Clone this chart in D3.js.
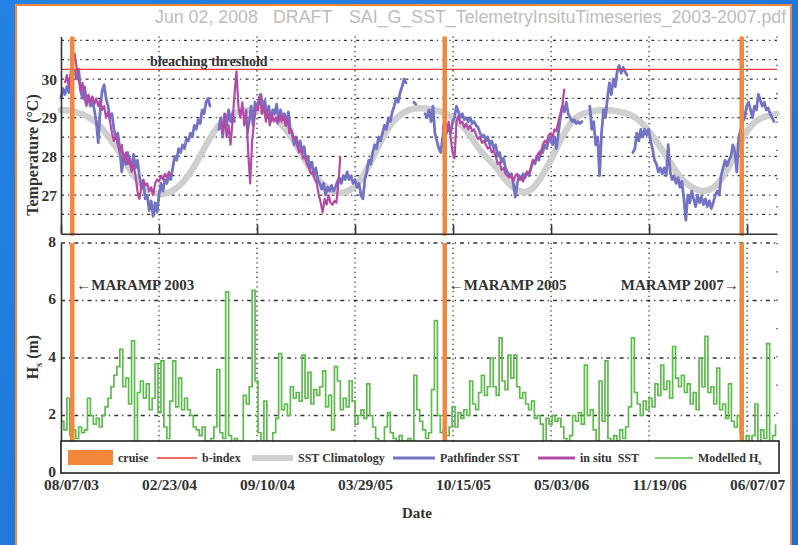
<!DOCTYPE html>
<html>
<head>
<meta charset="utf-8">
<script src="https://cdn.jsdelivr.net/npm/d3@7"></script>
<style>
  html, body { margin: 0; padding: 0; overflow: hidden; background: #1f7ae0; }
  svg { display: block; }
  .serif { font-family: "Liberation Serif", "Times New Roman", serif; font-weight: bold; fill: #333; }
</style>
</head>
<body>
<div id="chart"></div>
<script>
var W = 798, H = 545;

// ---------- data ----------
var startDate = "2003-08-07";
var endDate = "2007-08-07";
var tickDates = ["2003-08-07", "2004-02-23", "2004-09-10", "2005-03-29", "2005-10-15", "2006-05-03", "2006-11-19", "2007-06-07"];
var cruiseDates = ["2003-08-30", "2005-09-28", "2007-05-27"];
var cruiseNotes = ["\u2190MARAMP 2003", "\u2190MARAMP 2005", "MARAMP 2007\u2192"];
var bleachingThreshold = 30.25;
var tempTicks = [27, 28, 29, 30];
var tempGrid = [26.5, 27, 27.5, 28, 28.5, 29, 29.5, 30, 30.5, 31];
var hsTicks = [0, 2, 4, 6, 8];

// Pathfinder SST, 4-day samples, one array per unbroken stretch
var pfStarts = ["2003-08-07", "2004-06-24", "2004-08-21", "2005-07-27", "2005-08-19", "2006-07-21", "2006-10-17"];
var pf1 = [29.5, 29.75, 29.6, 29.8, 29.65, 29.95, 30.1, 30.2, 30.0, 30.25,
  29.7, 29.5, 29.8, 29.4, 29.55, 29.3, 29.45, 29.2,
  28.9, 28.35, 29.2, 29.7, 29.85, 29.5, 29.3, 29.0, 29.1, 28.7,
  28.5, 28.6, 28.2, 27.6, 28.0, 27.8, 28.1, 27.9, 27.7, 28.05,
  27.7, 27.9, 27.5, 27.2, 27.3, 26.9, 27.0, 26.6, 26.85, 26.45,
  26.8, 26.55, 27.0, 27.3, 27.1, 27.4, 27.3, 27.5, 27.4, 27.7,
  28.0, 27.9, 28.2, 28.1, 28.3, 28.2, 28.45, 28.4, 28.6, 28.5,
  28.8, 28.7, 28.95, 28.85, 29.2, 29.1, 29.4, 29.5, 29.3];
var pf2 = [28.7, 29.0, 28.5, 29.1, 28.8, 29.2, 28.9, 29.1, 28.9];
var pf3 = [28.6, 28.9, 29.3, 28.8, 29.4, 29.2, 29.5, 29.6, 29.2, 29.45,
  29.0, 29.3, 28.9, 29.2, 29.1, 29.35, 28.9, 29.2, 29.0, 29.1,
  28.8, 29.15, 28.7, 28.6, 28.3, 28.5, 28.2, 28.4, 28.1, 28.25,
  27.9, 28.0, 27.7, 27.85, 27.5, 27.7, 27.4, 27.3, 27.15, 27.3,
  27.0, 27.2, 27.1, 27.25, 27.1, 27.2, 27.35, 27.45, 27.3, 27.5,
  27.4, 27.6, 27.4, 27.5, 27.3, 27.4, 27.2, 27.3, 27.0, 26.9,
  27.4, 27.6, 27.9, 27.8, 28.1, 28.3, 28.2, 28.5, 28.4, 28.6,
  28.8, 28.7, 29.0, 28.9, 29.15, 29.3, 29.5, 29.4, 29.65, 29.8,
  30.0, 29.9];
var pf4 = [29.4, 29.35];
var pf5 = [29.1, 29.0, 29.2, 28.9, 29.3, 28.6, 28.4, 28.2, 28.1, 28.5,
  28.9, 28.6, 28.75, 28.6, 28.9, 29.0, 29.3, 29.15, 29.0, 29.1,
  28.95, 29.0, 28.9, 29.0, 28.85, 28.9, 28.8, 28.75, 28.6, 28.5,
  28.55, 28.4, 28.5, 28.3, 28.4, 28.2, 28.3, 28.0, 28.1, 27.85,
  27.95, 27.7, 27.6, 27.5, 27.55, 27.3, 26.95, 27.3, 27.5, 27.4,
  27.55, 27.45, 27.6, 27.5, 27.7, 27.9, 27.8, 28.0, 27.9, 28.15,
  28.1, 28.3, 28.2, 28.4, 28.5, 28.3, 28.5, 28.2, 28.6, 29.0,
  29.3, 29.15, 29.4, 29.1, 29.0, 28.9, 28.95, 28.85, 28.9, 28.85,
  28.9];
var pf6 = [29.3, 28.7, 28.9, 28.3, 28.5, 27.5, 28.6, 29.2, 29.0, 29.5,
  29.9, 29.6, 30.0, 29.8, 30.2, 30.35, 30.15, 30.3, 30.2, 30.1];
var pf7 = [28.1, 28.2, 28.6, 28.4, 28.7, 28.5, 28.7, 28.55, 28.7, 28.4,
  28.2, 27.9, 27.8, 27.6, 27.7, 27.55, 27.7, 27.5, 28.3, 27.6,
  27.4, 27.5, 27.3, 27.45, 27.2, 27.35, 26.9, 26.35, 27.0, 26.8,
  27.1, 26.9, 26.7, 27.0, 26.8, 26.95, 26.75, 26.9, 26.7, 26.85,
  26.65, 26.8, 27.0, 27.1, 27.0, 27.5, 27.7, 27.9, 27.75, 27.9,
  28.0, 28.3, 28.1, 27.6, 28.5, 28.7, 28.9, 29.0, 29.3, 29.4,
  29.2, 29.0, 29.3, 29.2, 29.6, 29.45, 29.3, 29.4, 29.2, 29.25,
  29.1, 29.0, 28.9];

// in situ SST, 4-day samples
var isStarts = ["2003-08-15", "2004-06-28", "2005-09-24"];
var is1 = [29.9, 30.1, 29.8, 30.2, 30.4, 30.65, 30.3, 30.0, 29.7, 29.9,
  29.5, 29.3, 29.6, 29.4, 29.55, 29.35, 29.5, 29.3, 29.45, 29.2,
  29.3, 29.0, 29.15, 28.9, 28.6, 28.4, 28.55, 28.3, 28.1, 28.3,
  27.9, 28.1, 27.8, 27.95, 27.6, 27.8, 27.5, 27.1, 26.9, 27.2,
  27.4, 27.25, 27.3, 27.1, 27.2, 27.0, 27.3, 27.4, 27.35, 27.5,
  27.4, 27.55, 27.45, 27.6, 27.5];
var is2 = [28.9, 28.6, 29.1, 28.5, 28.8, 28.3, 28.9, 29.6, 30.2, 29.3,
  29.0, 29.4, 28.8, 29.2, 28.1, 27.3, 28.4, 28.9, 29.3, 29.2,
  29.6, 29.1, 29.3, 28.9, 29.2, 28.8, 29.1, 28.9, 29.0, 28.85,
  29.1, 28.9, 29.05, 28.8, 29.0, 28.6, 28.7, 28.45, 28.5, 28.3,
  28.1, 28.2, 27.95, 28.0, 27.8, 27.7, 27.55, 27.6, 27.4, 27.3,
  27.0, 26.8, 26.55, 26.9, 26.75, 27.0, 26.8, 26.75, 26.85, 26.8,
  27.3, 28.0];
var is3 = [28.7, 29.0, 28.6, 28.9, 28.5, 28.1, 27.95, 28.9, 29.05, 28.85,
  28.9, 28.75, 28.85, 28.7, 28.8, 28.65, 28.7, 28.55, 28.45, 28.5,
  28.35, 28.4, 28.3, 28.2, 28.25, 28.1, 28.15, 28.0, 27.8, 27.85,
  27.65, 27.7, 27.55, 27.5, 27.45, 27.5, 27.35, 27.5, 27.55, 27.4,
  27.45, 27.35, 27.5, 27.6, 27.55, 27.7, 27.9, 27.85, 28.0, 28.1,
  28.05, 28.3, 28.4, 28.35, 28.55, 28.6, 28.5, 28.7, 28.65, 28.9,
  29.1, 29.3, 29.75];

// SST climatology, 20-day samples from startDate
var climStep = 20;
var climSST = [29.2, 29.2, 29.1, 29.0, 28.8, 28.45, 28.1, 27.65, 27.3, 27.1,
  27.0, 27.05, 27.2, 27.5, 27.9, 28.4, 28.8, 29.05, 29.15, 29.2,
  29.2, 29.15, 28.95, 28.7, 28.3, 27.85, 27.45, 27.2, 27.05, 27.05,
  27.2, 27.55, 28.05, 28.6, 28.95, 29.15, 29.25, 29.25, 29.2, 29.15,
  29.0, 28.8, 28.45, 28.05, 27.85, 27.5, 27.2, 27.05, 27.1, 27.45,
  27.9, 28.45, 28.9, 29.1, 29.15, 29.2, 29.2, 29.15, 29.1, 28.95,
  28.65, 28.3, 27.9, 27.5, 27.25, 27.1, 27.1, 27.25, 27.65, 28.2,
  28.7, 28.95, 29.05, 29.1];

// Modelled Hs (m), 6-day samples from startDate
var hsStep = 6;
var hsValues = [1.8, 1.5, 2.6, 1.3, 1.5, 1.2, 1.6, 1.4, 1.5, 2.6,
  2.0, 1.7, 1.9, 1.6, 2.0, 2.3, 2.6, 3.0, 3.4, 3.7,
  4.3, 3.0, 3.3, 2.4, 4.6, 0.9, 2.8, 3.2, 2.6, 3.1,
  2.2, 2.6, 3.8, 2.1, 3.9, 1.6, 1.2, 2.5, 3.9, 2.3,
  3.3, 2.2, 2.6, 2.2, 2.0, 1.6, 1.5, 1.3, 1.6, 1.1,
  1.0, 1.2, 1.6, 3.6, 1.4, 1.2, 6.3, 1.3, 0.9, 1.2,
  0.9, 1.1, 2.7, 2.4, 3.0, 6.35, 3.2, 1.4, 1.0, 2.5,
  1.1, 1.0, 1.4, 1.9, 4.15, 2.2, 2.4, 2.0, 3.0, 2.6,
  2.8, 2.5, 4.1, 2.6, 3.5, 2.4, 2.9, 2.7, 3.0, 3.55,
  2.3, 2.7, 1.5, 3.7, 3.2, 2.2, 2.6, 2.3, 3.2, 2.5,
  1.7, 2.0, 2.2, 1.9, 3.1, 2.0, 1.6, 1.2, 1.0, 1.1,
  1.6, 2.1, 1.4, 1.2, 1.0, 1.3, 1.1, 0.9, 1.2, 1.0,
  3.4, 2.2, 1.8, 1.5, 1.2, 1.4, 2.9, 5.3, 2.0, 1.4,
  1.5, 1.3, 1.6, 2.3, 1.6, 2.1, 1.9, 2.2, 2.0, 3.2,
  2.4, 2.2, 2.8, 3.4, 2.7, 3.0, 4.0, 3.0, 2.7, 4.7,
  3.2, 2.9, 4.1, 3.3, 4.1, 3.0, 2.6, 2.8, 2.4, 2.2,
  2.5, 1.9, 2.0, 1.7, 1.0, 1.9, 1.7, 2.0, 1.8, 1.9,
  1.6, 1.2, 1.0, 1.3, 2.0, 1.8, 2.1, 1.7, 3.75, 2.0,
  2.2, 1.5, 1.1, 3.2, 1.8, 3.9, 1.2, 1.0, 1.3, 1.1,
  1.5, 1.2, 1.6, 2.3, 4.7, 2.8, 2.4, 2.0, 2.5, 2.2,
  2.6, 2.3, 3.1, 2.7, 3.75, 2.9, 3.2, 2.6, 4.4, 3.3,
  3.0, 3.4, 2.8, 3.1, 2.4, 2.8, 2.2, 4.0, 3.0, 4.75,
  2.8, 3.0, 2.4, 3.65, 2.2, 2.4, 1.9, 3.1, 1.8, 1.6,
  2.0, 1.4, 1.1, 1.3, 1.0, 1.3, 2.4, 1.1, 1.5, 1.2,
  4.5, 1.0, 1.3, 1.7];

var legendLabels = ["cruise", "b-index", "SST Climatology", "Pathfinder SST", "in situ  SST", "Modelled H"];

// ---------- helpers ----------
var parseDate = d3.utcParse("%Y-%m-%d");
var fmt = d3.utcFormat("%m/%d/%y");

function series(start, step, values) {
  var t0 = parseDate(start);
  return values.map(function(v, i) { return { date: d3.utcDay.offset(t0, i * step), value: v }; });
}

var pfSeries = [pf1, pf2, pf3, pf4, pf5, pf6, pf7].map(function(v, i) { return series(pfStarts[i], 4, v); });
var isSeries = [is1, is2, is3].map(function(v, i) { return series(isStarts[i], 4, v); });
var climSeries = series(startDate, climStep, climSST);
var hsSeries = series(startDate, hsStep, hsValues);

var ink = "#333";
var colors = { cruise: "#f4873a", bindex: "#e8393b", clim: "#cfcfcf", pf: "#7273c2", insitu: "#b34aa6", hs: "#5dbb4c" };

var left = 61, right = 777;
var topT = 36.5, botT = 233.7;
var topH = 243, botH = 473;

var x = d3.scaleUtc().domain([parseDate(startDate), parseDate(endDate)]).range([left, right]);
var yT = d3.scaleLinear().domain([26, 31.1]).range([botT, topT]);
var yH = d3.scaleLinear().domain([0, 8]).range([botH, topH]);
var ticks = tickDates.map(parseDate);

var svg = d3.select("#chart").append("svg").attr("width", W).attr("height", H);

// ---------- frame ----------
var grad = svg.append("defs").append("linearGradient").attr("id", "bg")
    .attr("x1", "0").attr("y1", "0").attr("x2", "1").attr("y2", "1");
grad.append("stop").attr("offset", "0").attr("stop-color", "#2482e4");
grad.append("stop").attr("offset", "1").attr("stop-color", "#1a6fd6");
svg.append("rect").attr("width", W).attr("height", H).attr("fill", "url(#bg)");
svg.append("rect").attr("x", 16).attr("y", 5).attr("width", 775).attr("height", H + 10)
    .attr("fill", "#fff").attr("stroke", "#f4873a").attr("stroke-width", 2);

svg.select("defs").append("clipPath").attr("id", "panel")
  .append("rect").attr("x", 17).attr("y", 6).attr("width", 773).attr("height", H);

var head = svg.append("g").attr("clip-path", "url(#panel)")
    .style("font-family", "'Liberation Sans', Arial, sans-serif").style("font-size", "17.8px").attr("fill", "#bdbdbd");
head.append("text").attr("x", 155).attr("y", 23).text("Jun 02, 2008");
head.append("text").attr("x", 273).attr("y", 23).text("DRAFT");
head.append("text").attr("x", 349).attr("y", 23).text("SAI_G_SST_TelemetryInsituTimeseries_2003-2007.pdf");

// ---------- grids ----------
function vGrid(y0, y1) {
  svg.append("g").selectAll("line").data(ticks.slice(1)).enter().append("line")
      .attr("x1", function(d) { return x(d); }).attr("x2", function(d) { return x(d); })
      .attr("y1", y0).attr("y2", y1)
      .attr("stroke", ink).attr("stroke-width", 1.3).attr("stroke-dasharray", "1.3,3.5");
  svg.append("line").attr("x1", right).attr("x2", right).attr("y1", y0).attr("y2", y1)
      .attr("stroke", ink).attr("stroke-width", 1.3).attr("stroke-dasharray", "1.3,27");
}
vGrid(topT, botT);
vGrid(topH, botH);

svg.append("g").selectAll("line").data(tempGrid).enter().append("line")
    .attr("x1", left).attr("x2", right)
    .attr("y1", function(d) { return yT(d); }).attr("y2", function(d) { return yT(d); })
    .attr("stroke", ink).attr("stroke-width", 1.3).attr("stroke-dasharray", "3,4,1.3,4");

svg.append("g").selectAll("line").data(hsTicks.slice(1)).enter().append("line")
    .attr("x1", left).attr("x2", right)
    .attr("y1", function(d) { return yH(d); }).attr("y2", function(d) { return yH(d); })
    .attr("stroke", ink).attr("stroke-width", 1.3).attr("stroke-dasharray", "4,4,1.3,4");

// ---------- temperature panel ----------
var tLine = d3.line().x(function(d) { return x(d.date); }).y(function(d) { return yT(d.value); });

svg.append("path").datum(climSeries)
    .attr("d", d3.line().curve(d3.curveBasis).x(function(d) { return x(d.date); }).y(function(d) { return yT(d.value); }))
    .attr("fill", "none").attr("stroke", colors.clim).attr("stroke-width", 6.5).attr("stroke-linecap", "round");

svg.append("g").selectAll("path").data(pfSeries).enter().append("path")
    .attr("d", tLine).attr("fill", "none").attr("stroke", colors.pf).attr("stroke-width", 2.8)
    .attr("stroke-linejoin", "round").attr("stroke-linecap", "round");

svg.append("g").selectAll("path").data(isSeries).enter().append("path")
    .attr("d", tLine).attr("fill", "none").attr("stroke", colors.insitu).attr("stroke-width", 2.2)
    .attr("stroke-linejoin", "round");

svg.append("line").attr("x1", left).attr("x2", right)
    .attr("y1", yT(bleachingThreshold)).attr("y2", yT(bleachingThreshold))
    .attr("stroke", colors.bindex).attr("stroke-width", 1.3);

svg.append("text").attr("class", "serif").attr("x", 150).attr("y", yT(bleachingThreshold) - 3)
    .style("font-size", "14px").text("bleaching threshold");

// ---------- Hs panel ----------
svg.append("path").datum(hsSeries)
    .attr("d", d3.line().curve(d3.curveStepAfter).x(function(d) { return x(d.date); }).y(function(d) { return yH(d.value); }))
    .attr("fill", "none").attr("stroke", colors.hs).attr("stroke-width", 1.7);

// ---------- cruises ----------
var cruises = cruiseDates.map(parseDate);
[[topT, botT + 2], [topH, botH]].forEach(function(r) {
  svg.append("g").selectAll("line").data(cruises).enter().append("line")
      .attr("x1", function(d) { return x(d); }).attr("x2", function(d) { return x(d); })
      .attr("y1", r[0]).attr("y2", r[1])
      .attr("stroke", colors.cruise).attr("stroke-width", 4.5);
});

svg.append("g").selectAll("text").data(cruises).enter().append("text")
    .attr("class", "serif").style("font-size", "15px")
    .attr("x", function(d, i) { return i === 2 ? x(d) - 3 : x(d) + 4; })
    .attr("y", 290)
    .attr("text-anchor", function(d, i) { return i === 2 ? "end" : "start"; })
    .text(function(d, i) { return cruiseNotes[i]; });

// ---------- axes ----------
function styleAxis(g) {
  g.selectAll(".domain").attr("stroke", ink).attr("stroke-width", 1.6);
  g.selectAll(".tick line").attr("stroke", ink).attr("stroke-width", 1.6);
  g.selectAll("text").attr("class", "serif").attr("fill", ink).style("font-size", "15.5px");
}

svg.append("g").attr("transform", "translate(" + left + ",0)")
    .call(d3.axisLeft(yT).tickValues(tempTicks).tickSize(0).tickPadding(4).tickFormat(d3.format("d")))
    .call(styleAxis);

svg.append("g").attr("transform", "translate(0," + botT + ")")
    .call(d3.axisBottom(x).tickValues(ticks).tickSizeInner(-9).tickSizeOuter(0).tickFormat(""))
    .call(styleAxis);

svg.append("g").attr("transform", "translate(" + left + ",0)")
    .call(d3.axisLeft(yH).tickValues(hsTicks).tickSize(0).tickPadding(5))
    .call(styleAxis)
    .selectAll("text").attr("dy", "0.2em");

// ---------- legend ----------
var legend = svg.append("g");
legend.append("rect").attr("x", left).attr("y", 441).attr("width", 718).attr("height", 32)
    .attr("fill", "#fff").attr("stroke", "#222").attr("stroke-width", 1.6);

var swatchX = [68, 157, 252, 393, 538, 655];
var swatchW = [45, 40, 41, 42, 37, 38];
var swatchStyle = [
  { c: colors.cruise, w: 0 }, { c: colors.bindex, w: 1.3 }, { c: colors.clim, w: 6 },
  { c: colors.pf, w: 3 }, { c: colors.insitu, w: 3 }, { c: colors.hs, w: 1.3 }
];
legendLabels.forEach(function(lab, i) {
  if (i === 0) {
    legend.append("rect").attr("x", swatchX[i]).attr("y", 450).attr("width", swatchW[i]).attr("height", 15)
        .attr("fill", colors.cruise);
  } else {
    legend.append("line").attr("x1", swatchX[i]).attr("x2", swatchX[i] + swatchW[i])
        .attr("y1", 458).attr("y2", 458)
        .attr("stroke", swatchStyle[i].c).attr("stroke-width", swatchStyle[i].w);
  }
  var t = legend.append("text").attr("class", "serif").style("font-size", "12px")
      .style("white-space", "pre")
      .attr("x", swatchX[i] + swatchW[i] + 5).attr("y", 462).text(lab);
  if (i === 5) t.append("tspan").attr("dy", 3).style("font-size", "8px").text("s");
});

// x tick labels sit under the legend box
svg.append("g").attr("transform", "translate(0," + botH + ")")
    .call(d3.axisBottom(x).tickValues(ticks).tickSize(0).tickPadding(6).tickFormat(fmt))
    .call(function(g) { g.select(".domain").remove(); })
    .call(styleAxis)
    .selectAll("text").attr("dx", 10);

// ---------- titles ----------
svg.append("text").attr("class", "serif").style("font-size", "16px")
    .attr("transform", "translate(38,155) rotate(-90)").attr("text-anchor", "middle")
    .text("Temperature (\u00b0C)");

var hsTitle = svg.append("text").attr("class", "serif").style("font-size", "16px")
    .attr("transform", "translate(38,357) rotate(-90)").attr("text-anchor", "middle");
hsTitle.append("tspan").text("H");
hsTitle.append("tspan").attr("dy", 4).style("font-size", "10px").text("s");
hsTitle.append("tspan").attr("dy", -4).text(" (m)");

svg.append("text").attr("class", "serif").style("font-size", "15px")
    .attr("x", 417).attr("y", 518).attr("text-anchor", "middle").text("Date");
</script>
</body>
</html>
